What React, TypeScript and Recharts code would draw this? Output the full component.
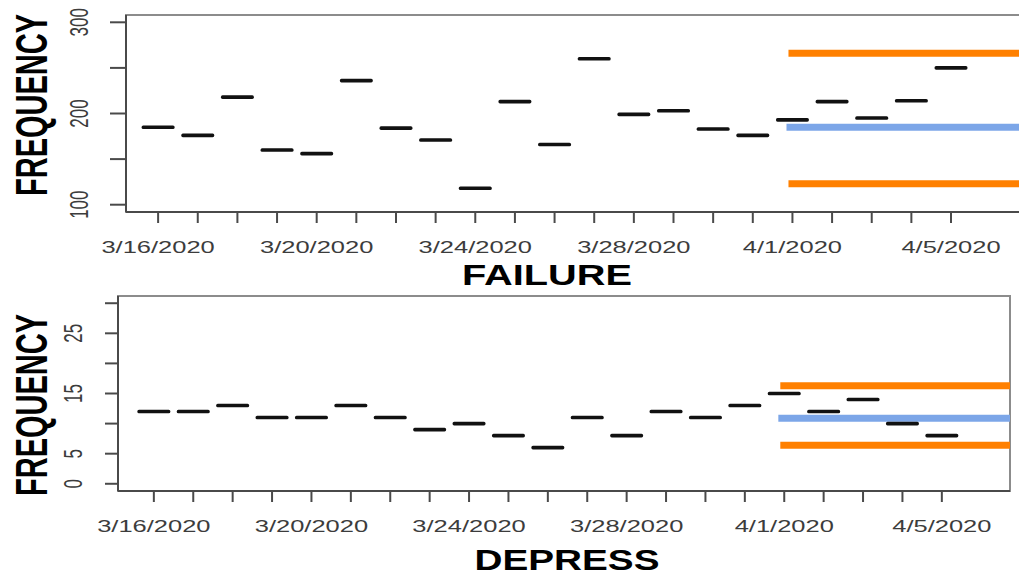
import React from 'react';
import { ScatterChart, Scatter, XAxis, YAxis, ReferenceLine, ReferenceArea, Label } from 'recharts';

const dates = [
  '3/16/2020', '3/17/2020', '3/18/2020', '3/19/2020', '3/20/2020', '3/21/2020', '3/22/2020',
  '3/23/2020', '3/24/2020', '3/25/2020', '3/26/2020', '3/27/2020', '3/28/2020', '3/29/2020',
  '3/30/2020', '3/31/2020', '4/1/2020', '4/2/2020', '4/3/2020', '4/4/2020', '4/5/2020',
];
const failureCounts = [185, 176, 218, 160, 156, 236, 184, 171, 118, 213, 166, 260, 199, 203, 183, 176, 193, 213, 195, 214, 250];
const depressCounts = [12, 12, 13, 11, 11, 13, 11, 9, 10, 8, 6, 11, 8, 12, 11, 13, 15, 12, 14, 10, 8];

// forecast band: upper, mean, lower
const failureForecast = [266, 185, 123];
const depressForecast = [16.3, 10.9, 6.4];
const forecastFrom = 15.9; // just before 4/1

const failureYTicks = [100, 150, 200, 250, 300];
const failureYLabels = [100, 200, 300];
const depressYTicks = [0, 5, 10, 15, 20, 25, 30];
const depressYLabels = [0, 5, 15, 25];
const dateLabelEvery = 4;

const FONT = '"Liberation Sans", Arial, Helvetica, sans-serif';
const ORANGE = '#ff8000';
const BLUE = '#7ca6e8';
const AXIS = '#4a4a4a';

const dayTicks = dates.map((_, i) => i);

const DateTick = (props: any) => {
  const { x, y, payload } = props;
  if (payload.value % dateLabelEvery !== 0) return <g />;
  return (
    <g transform={`translate(${x},${y + 28}) scale(1.5,1)`}>
      <text textAnchor="middle" fontSize={17} fill="#3c3c3c" fontFamily={FONT}>
        {dates[payload.value]}
      </text>
    </g>
  );
};

const makeValueTick = (labels: number[], gap: number) => (props: any) => {
  const { x, y, payload } = props;
  if (!labels.includes(payload.value)) return <g />;
  return (
    <g transform={`translate(${x - gap},${y}) scale(1.5,1) rotate(-90)`}>
      <text textAnchor="middle" dominantBaseline="central" fontSize={17} fill="#3c3c3c" fontFamily={FONT}>
        {payload.value}
      </text>
    </g>
  );
};

const Dash = (props: any) => {
  const { cx, cy } = props;
  if (cx == null || cy == null) return <g />;
  return <rect x={cx - 16.5} y={cy - 1.8} width={33} height={3.6} rx={1.6} fill="#111" />;
};

interface PanelProps {
  title: string;
  counts: number[];
  forecast: number[];
  xDomain: [number, number];
  yDomain: [number, number];
  yTicks: number[];
  yLabels: number[];
  width: number;
  height: number;
  margin: { top: number; right: number; bottom: number; left: number };
  yAxisWidth: number;
  xAxisHeight: number;
  yTickSize: number;
  yLabelGap: number;
  titleDx: number;
  titleDy: number;
  freqDy: number;
  titleLength: number;
}

const Panel = (p: PanelProps) => {
  const rows = p.counts.map((v, i) => ({ d: i, v }));
  const [upper, mean, lower] = p.forecast;
  const end = p.xDomain[1];
  return (
    <ScatterChart width={p.width} height={p.height} margin={p.margin}>
      <ReferenceArea
        x1={p.xDomain[0]}
        x2={p.xDomain[1]}
        y1={p.yDomain[0]}
        y2={p.yDomain[1]}
        fill="none"
        stroke="#8c8c8c"
        strokeWidth={2}
        ifOverflow="visible"
      />
      <XAxis
        type="number"
        dataKey="d"
        domain={p.xDomain}
        ticks={dayTicks}
        interval={0}
        allowDataOverflow
        height={p.xAxisHeight}
        tickSize={11}
        tickMargin={2}
        tick={DateTick}
        axisLine={{ stroke: AXIS, strokeWidth: 2 }}
        tickLine={{ stroke: AXIS, strokeWidth: 2 }}
      >
        <Label
          content={(lp: any) => {
            const vb = lp.viewBox || { x: 0, y: 0, width: 0 };
            return (
              <text
                x={vb.x + vb.width / 2 + p.titleDx}
                y={vb.y + p.titleDy}
                textAnchor="middle"
                fontSize={30}
                fontWeight="bold"
                fontFamily={FONT}
                fill="#000"
                textLength={p.titleLength}
                lengthAdjust="spacingAndGlyphs"
              >
                {p.title}
              </text>
            );
          }}
        />
      </XAxis>
      <YAxis
        type="number"
        dataKey="v"
        domain={p.yDomain}
        ticks={p.yTicks}
        interval={0}
        allowDataOverflow
        width={p.yAxisWidth}
        tickSize={p.yTickSize}
        tickMargin={2}
        tick={makeValueTick(p.yLabels, p.yLabelGap)}
        axisLine={{ stroke: AXIS, strokeWidth: 2 }}
        tickLine={{ stroke: AXIS, strokeWidth: 2 }}
      >
        <Label
          content={(lp: any) => {
            const vb = lp.viewBox || { x: 0, y: 0, height: 0 };
            const cy = vb.y + vb.height / 2 + p.freqDy;
            return (
              <g transform={`translate(32,${cy}) scale(1.5,1) rotate(-90)`}>
                <text
                  textAnchor="middle"
                  dominantBaseline="central"
                  fontSize={29}
                  fontWeight="bold"
                  fontFamily={FONT}
                  fill="#000"
                >
                  FREQUENCY
                </text>
              </g>
            );
          }}
        />
      </YAxis>
      <ReferenceLine
        segment={[{ x: forecastFrom, y: upper }, { x: end, y: upper }]}
        stroke={ORANGE}
        strokeWidth={7}
        ifOverflow="visible"
      />
      <ReferenceLine
        segment={[{ x: forecastFrom - 0.05, y: mean }, { x: end, y: mean }]}
        stroke={BLUE}
        strokeWidth={7}
        ifOverflow="visible"
      />
      <ReferenceLine
        segment={[{ x: forecastFrom, y: lower }, { x: end, y: lower }]}
        stroke={ORANGE}
        strokeWidth={7}
        ifOverflow="visible"
      />
      <Scatter data={rows} shape={Dash} isAnimationActive={false} />
    </ScatterChart>
  );
};

export default function App() {
  return (
    <div
      style={{
        position: 'absolute',
        left: 0,
        top: 0,
        width: 1019,
        height: 579,
        overflow: 'hidden',
        background: '#fff',
      }}
    >
      <div style={{ position: 'absolute', left: 0, top: 0 }}>
        <Panel
          title="FAILURE"
          counts={failureCounts}
          forecast={failureForecast}
          xDomain={[-0.81, 21.74]}
          yDomain={[92, 308]}
          yTicks={failureYTicks}
          yLabels={failureYLabels}
          width={1030}
          height={290}
          margin={{ top: 15, right: 10, bottom: 0, left: 0 }}
          yAxisWidth={126}
          xAxisHeight={78}
          yTickSize={16}
          yLabelGap={29}
          titleDx={-26}
          titleDy={73}
          freqDy={-8.5}
          titleLength={170}
        />
      </div>
      <div style={{ position: 'absolute', left: 0, top: 290 }}>
        <Panel
          title="DEPRESS"
          counts={depressCounts}
          forecast={depressForecast}
          xDomain={[-0.91, 21.73]}
          yDomain={[-1.2, 31.2]}
          yTicks={depressYTicks}
          yLabels={depressYLabels}
          width={1019}
          height={289}
          margin={{ top: 6, right: 9, bottom: 0, left: 0 }}
          yAxisWidth={118}
          xAxisHeight={88}
          yTickSize={13}
          yLabelGap={30}
          titleDx={3}
          titleDy={79}
          freqDy={11.5}
          titleLength={185}
        />
      </div>
    </div>
  );
}
